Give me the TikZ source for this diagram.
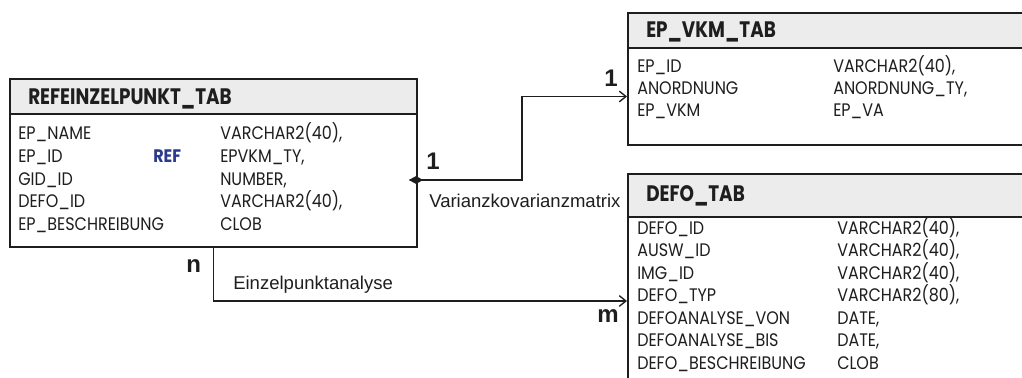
\documentclass[tikz,border=0pt]{standalone}
\usepackage{fontspec}
\setmainfont{Liberation Sans}
\newfontfamily\tabfont[FakeStretch=0.88]{Poppins}
\newfontfamily\headfont[FakeStretch=0.82]{Poppins}
\usetikzlibrary{arrows.meta,shapes.geometric}
\definecolor{linecol}{HTML}{1E1E1E}
\definecolor{headfill}{HTML}{ECECEC}
\definecolor{refblue}{HTML}{2B3A8C}
\begin{document}
\begin{tikzpicture}[x=0.75pt,y=-0.75pt,>={Straight Barb[length=5pt,width=8pt]}]
  \tikzset{
    head/.style={draw=linecol, line width=1.5pt, fill=headfill, anchor=north west, inner sep=0pt},
    body/.style={draw=linecol, line width=1.5pt, fill=white, anchor=north west, inner sep=0pt},
    title/.style={anchor=base west, inner sep=0pt, text=linecol, font=\headfont\bfseries\fontsize{16.8}{16.8}\selectfont},
    cell/.style={anchor=base west, inner sep=0pt, text=linecol, font=\tabfont\fontsize{13.6}{13.6}\selectfont},
    refkw/.style={anchor=base west, inner sep=0pt, text=refblue, font=\tabfont\bfseries\fontsize{13.6}{13.6}\selectfont},
    lbl/.style={anchor=base west, inner sep=0pt, text=linecol, font=\fontsize{13.9}{13.9}\selectfont},
    card/.style={anchor=base west, inner sep=0pt, text=linecol, font=\bfseries\fontsize{18}{18}\selectfont},
    conn/.style={draw=linecol, line width=1pt},
    junct/.style={diamond, fill=linecol, inner sep=0pt, minimum width=11pt, minimum height=6pt}}
  \useasboundingbox (0,0) rectangle (1022,378);
  \clip (0,0) rectangle (1022,378);

  % tables
  \node[body, minimum width=305.25pt, minimum height=99.75pt] (ref) at (9,113) {};
  \node[head, minimum width=305.25pt, minimum height=26.25pt] (refh) at (9,78) {};
  \node[title] (reft) at (28,105) {REFEINZELPUNKT\_TAB};
  \node[body, minimum width=307.5pt, minimum height=72.75pt] (vkm) at (627,47) {};
  \node[head, minimum width=307.5pt, minimum height=26.25pt] (vkmh) at (627,12) {};
  \node[title] (vkmt) at (646,38) {EP\_VKM\_TAB};
  \node[body, minimum width=307.5pt, minimum height=126pt] (defo) at (627,216) {};
  \node[head, minimum width=307.5pt, minimum height=32.25pt] (defoh) at (627,173) {};
  \node[title] (defot) at (646,201) {DEFO\_TAB};

  \foreach \name/\type [count=\i from 0] in {EP\_NAME/{VARCHAR2(40),}, EP\_ID/{EPVKM\_TY,},
      GID\_ID/{NUMBER,}, DEFO\_ID/{VARCHAR2(40),}, EP\_BESCHREIBUNG/CLOB} {
    \node[cell] (refa\i) at (18,140+22.6*\i) {\name};
    \node[cell] (refb\i) at (220,140+22.6*\i) {\type};
  }
  \node[refkw] (refkey) at (153,162.6) {REF};
  \foreach \name/\type [count=\i from 0] in {EP\_ID/{VARCHAR2(40),}, ANORDNUNG/{ANORDNUNG\_TY,},
      EP\_VKM/EP\_VA} {
    \node[cell] (vkma\i) at (637,73+22*\i) {\name};
    \node[cell] (vkmb\i) at (833,73+22*\i) {\type};
  }
  \foreach \name/\type [count=\i from 0] in {DEFO\_ID/{VARCHAR2(40),}, AUSW\_ID/{VARCHAR2(40),},
      IMG\_ID/{VARCHAR2(40),}, DEFO\_TYP/{VARCHAR2(80),}, DEFOANALYSE\_VON/{DATE,},
      DEFOANALYSE\_BIS/{DATE,}, DEFO\_BESCHREIBUNG/CLOB} {
    \node[cell] (defoa\i) at (637,234+22.5*\i) {\name};
    \node[cell] (defob\i) at (837,234+22.5*\i) {\type};
  }

  % relations
  \node[junct] (jn) at (416,180) {};
  \draw[conn,->] (jn.center) -- ++(106,0) |- (vkm.west);
  \draw[conn,->] (ref.south) |- (defo.west);
  \node[card] (c1a) at (426,170) {1};
  \node[card] (c1b) at (604,87) {1};
  \node[lbl] (vkmrel) at (429,207) {Varianzkovarianzmatrix};
  \node[card] (cn) at (186,272) {n};
  \node[lbl] (eprel) at (233,289) {Einzelpunktanalyse};
  \node[card] (cm) at (597,322) {m};
\end{tikzpicture}
\end{document}
